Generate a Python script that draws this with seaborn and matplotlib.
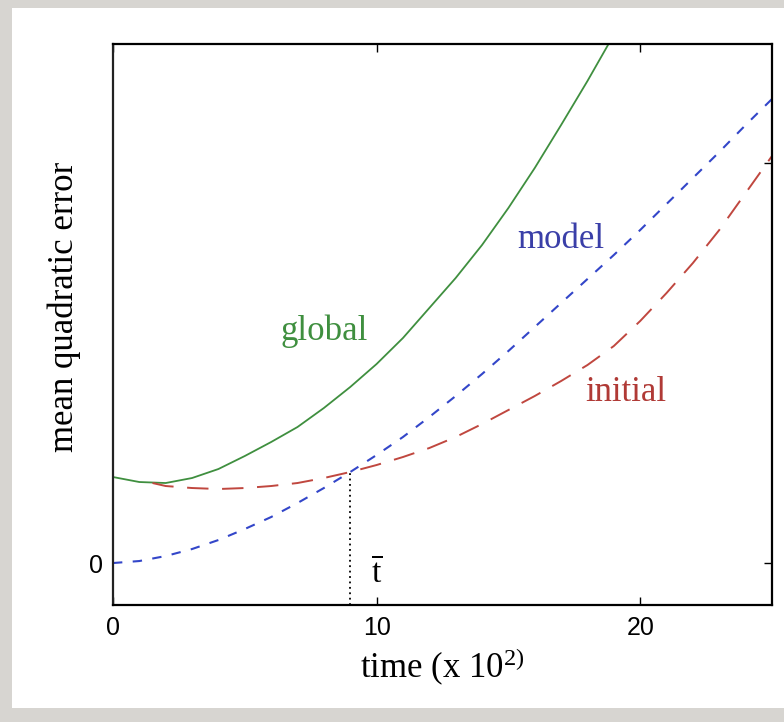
import matplotlib
matplotlib.use("Agg")
import matplotlib.pyplot as plt
import seaborn as sns
import pandas as pd
from matplotlib.patches import Rectangle

# time axis (units of 10^2) and error curves
global_t = [0, 1, 2, 3, 4, 5, 6, 7, 8, 9, 10, 11, 12, 13, 14, 15, 16, 17, 18, 18.8]
global_err = [0.86, 0.81, 0.80, 0.85, 0.94, 1.07, 1.21, 1.36, 1.55, 1.76, 1.99,
              2.25, 2.55, 2.85, 3.18, 3.55, 3.95, 4.38, 4.82, 5.19]

model_t = list(range(0, 26))
model_err = [0.00, 0.02, 0.07, 0.14, 0.23, 0.34, 0.46, 0.60, 0.75, 0.91, 1.08,
             1.26, 1.46, 1.67, 1.89, 2.12, 2.36, 2.60, 2.84, 3.08, 3.33, 3.59,
             3.85, 4.11, 4.38, 4.64]

initial_t = [1.5, 2, 3, 4, 5, 6, 7, 8, 9, 10, 11, 12, 13, 14, 15, 16, 17, 18,
             19, 20, 21, 22, 23, 24, 25]
initial_err = [0.80, 0.77, 0.75, 0.74, 0.75, 0.77, 0.80, 0.85, 0.91, 0.98, 1.06,
               1.15, 1.26, 1.39, 1.53, 1.67, 1.82, 1.98, 2.17, 2.42, 2.70, 3.00,
               3.33, 3.70, 4.07]

t_bar = 9.0
t_bar_err = 0.91

x_ticks = [0, 10, 20]
y_ticks = [0, 4]
y_tick_labels = ["0", ""]

GREEN = "#3f8f3f"
BLUE = "#3346c9"
RED = "#c0473f"

sns.set_theme(style="white")
plt.rcParams["font.family"] = ["Liberation Serif", "DejaVu Serif"]
plt.rcParams["mathtext.fontset"] = "custom"
plt.rcParams["mathtext.rm"] = "Liberation Serif"
plt.rcParams["mathtext.it"] = "Liberation Serif:italic"

fig = plt.figure(figsize=(7.84, 7.22), dpi=100)
fig.patch.set_facecolor("#d7d5d1")
card = Rectangle((0.0153, 0.0194), 0.99, 0.9696, transform=fig.transFigure,
                 facecolor="white", edgecolor="none", zorder=-10)
fig.patches.append(card)

ax = fig.add_axes([0.1441, 0.1620, 0.8406, 0.7771])
ax.set_zorder(5)
ax.set_facecolor("white")

df_g = pd.DataFrame({"t": global_t, "err": global_err})
df_m = pd.DataFrame({"t": model_t, "err": model_err})
df_i = pd.DataFrame({"t": initial_t, "err": initial_err})

sns.lineplot(data=df_g, x="t", y="err", color=GREEN, linewidth=1.3, ax=ax, sort=False)
sns.lineplot(data=df_m, x="t", y="err", color=BLUE, linewidth=1.5,
             linestyle=(0, (4.5, 5)), ax=ax, sort=False)
sns.lineplot(data=df_i, x="t", y="err", color=RED, linewidth=1.4,
             linestyle=(0, (11, 7)), ax=ax, sort=False)

ax.set_xlim(0, 25)
ax.set_ylim(-0.42, 5.19)

# vertical marker at the crossing time
ax.plot([t_bar, t_bar], [-0.42, t_bar_err], color="black", linewidth=1.3,
        linestyle=(0, (1, 2)))
ax.text(10.0, -0.10, r"$\overline{\mathrm{t}}$", fontsize=24, ha="center",
        va="center", color="black")

ax.text(8.0, 2.32, "global", color=GREEN, fontsize=25, ha="center", va="center")
ax.text(17.0, 3.23, "model", color="#3a3fa8", fontsize=25, ha="center", va="center")
ax.text(19.45, 1.71, "initial", color="#b03a36", fontsize=25, ha="center", va="center")

ax.set_xticks(x_ticks)
ax.set_xticklabels([str(v) for v in x_ticks], family="Liberation Sans", fontsize=18)
ax.set_yticks(y_ticks)
ax.set_yticklabels(y_tick_labels, family="Liberation Sans", fontsize=18)
ax.tick_params(direction="in", length=6, width=1, top=True, right=True,
               bottom=True, left=False, labelleft=True, colors="black", pad=8)
ax.tick_params(axis="y", pad=7)

for name, s in ax.spines.items():
    s.set_visible(True)
    s.set_color("#222222" if name == "left" else "black")
    s.set_linewidth(1.6)

ax.set_xlabel("time (x 10$^{2)}$", fontsize=25, color="black")
ax.set_ylabel("mean quadratic error", fontsize=25, color="black")
ax.xaxis.set_label_coords(0.5, -0.073)
ax.xaxis.label.set_va("top")
ax.yaxis.set_label_coords(-0.048, 0.531)

fig.savefig("out.png", dpi=100, facecolor=fig.get_facecolor())
